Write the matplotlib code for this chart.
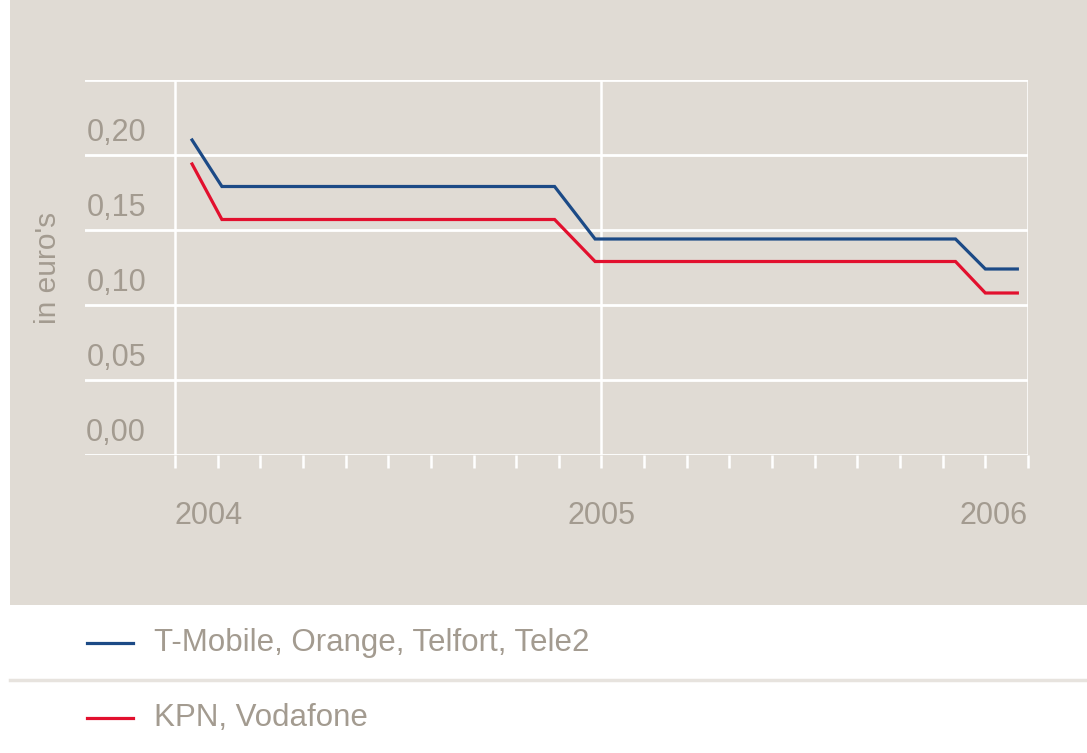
import matplotlib
matplotlib.use("Agg")
import matplotlib.pyplot as plt
from matplotlib.lines import Line2D
from matplotlib.patches import Rectangle
from matplotlib.transforms import blended_transform_factory, ScaledTranslation

# ---- data ----
x_steps = [0.4, 1.1, 8.9, 9.85, 18.3, 19.0, 19.75]   # month index (0 = start 2004 tick)
series_names = ["T-Mobile, Orange, Telfort, Tele2", "KPN, Vodafone"]
tmobile = [0.210, 0.179, 0.179, 0.144, 0.144, 0.124, 0.124]
kpn = [0.194, 0.157, 0.157, 0.129, 0.129, 0.108, 0.108]
y_ticks = [0.00, 0.05, 0.10, 0.15, 0.20]
y_tick_labels = ["0,00", "0,05", "0,10", "0,15", "0,20"]
x_year_pos = [0, 10, 20]
x_year_labels = ["2004", "2005", "2006"]
minor_ticks = list(range(0, 21))

BG = "#e0dbd4"
TXT = "#a39b90"
BLUE = "#1c4a86"
RED = "#e2102e"

plt.rcParams['font.family'] = ['Liberation Sans', 'DejaVu Sans']

W, H = 1087, 753
fig = plt.figure(figsize=(W / 100, H / 100), dpi=100)
fig.patch.set_facecolor("white")

# background panel
fig.add_artist(Rectangle((10 / W, 1 - 605 / H), 1 - 10 / W, 605 / H,
                         transform=fig.transFigure, facecolor=BG, edgecolor="none", zorder=0))

# axes: x 85..1028 px, y 80..455 px
ax_l, ax_r, ax_t, ax_b = 85, 1028, 80, 455
ax = fig.add_axes([ax_l / W, 1 - ax_b / H, (ax_r - ax_l) / W, (ax_b - ax_t) / H])
ax.set_facecolor("none")
for s in ax.spines.values():
    s.set_visible(False)

x_left = -(175 - ax_l) / ((ax_r - 175) / 20)
ax.set_xlim(x_left, 20)
ax.set_ylim(0, 0.25)

# horizontal gridlines
for v in [0, 0.05, 0.10, 0.15, 0.20, 0.25]:
    ax.axhline(v, color="white", lw=2.0, zorder=1)
# vertical gridlines
for v in x_year_pos:
    ax.axvline(v, color="white", lw=1.8, zorder=1)

# ticks
ax.set_xticks(x_year_pos)
ax.set_xticklabels(x_year_labels, fontsize=22, color=TXT)
for lbl, ha in zip(ax.get_xticklabels(), ["left", "center", "right"]):
    lbl.set_ha(ha)
ax.set_xticks(minor_ticks, minor=True)
ax.tick_params(axis="x", which="both", direction="out", length=9, width=1.8,
               color="white", pad=24)
ax.set_yticks([])

# y labels above their gridlines
trans = blended_transform_factory(ax.transAxes, ax.transData) + \
    ScaledTranslation(0, 0.14, fig.dpi_scale_trans)
for v, t in zip(y_ticks, y_tick_labels):
    ax.text((146 - ax_l) / (ax_r - ax_l), v, t, transform=trans, ha="right",
            va="baseline", fontsize=22, color=TXT)

fig.text(48 / W, 1 - 268 / H, "in euro's", rotation=90, ha="center", va="center",
         fontsize=21.5, color=TXT)

# data lines
ax.plot(x_steps, tmobile, color=BLUE, lw=2.3, zorder=3, solid_joinstyle="miter")
ax.plot(x_steps, kpn, color=RED, lw=2.3, zorder=3, solid_joinstyle="miter")

# legend (manual)
for yy, col, name in [(643, BLUE, series_names[0]), (718, RED, series_names[1])]:
    fig.add_artist(Line2D([87 / W, 133 / W], [1 - yy / H, 1 - yy / H],
                          transform=fig.transFigure, color=col, lw=2.3))
    fig.text(154 / W, 1 - yy / H, name, ha="left", va="center", fontsize=22.5, color=TXT)

fig.add_artist(Line2D([10 / W, 1], [1 - 680 / H, 1 - 680 / H],
                      transform=fig.transFigure, color="#e7e3de", lw=2.5))

fig.savefig("out.png", dpi=100, facecolor=fig.get_facecolor())
